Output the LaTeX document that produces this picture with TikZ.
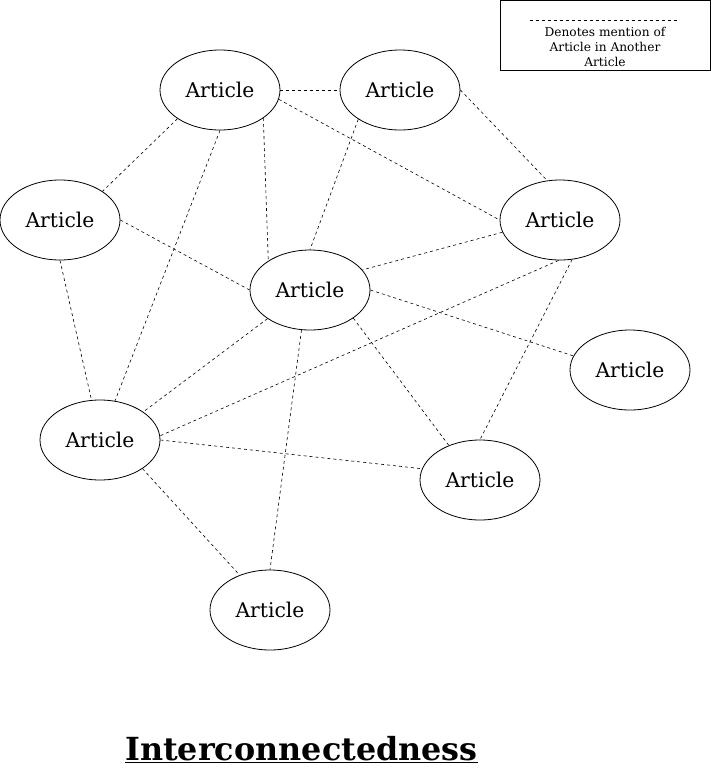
\documentclass[tikz,border=0pt]{standalone}
\usepackage{fontspec}
\setmainfont{DejaVu Serif}
\usetikzlibrary{shapes.geometric}
\begin{document}
\begin{tikzpicture}[x=1pt,y=-1pt,
  article/.style={draw,ellipse,minimum width=120pt,minimum height=80pt,inner sep=0pt,line width=0.8pt,font=\fontsize{20.3}{24}\selectfont},
  mention/.style={draw,line width=0.6pt,dash pattern=on 3pt off 3pt},
  legendbox/.style={draw,line width=0.8pt,minimum width=210pt,minimum height=70pt,inner sep=0pt},
  legendtext/.style={align=center,font=\fontsize{12.2}{15}\selectfont,inner sep=0pt},
  titletext/.style={font=\bfseries\fontsize{31.8}{38}\selectfont,inner sep=0pt}]
\useasboundingbox (0,0) rectangle (711,769);
\node[article] (A1) at (220,90) {Article};
\node[article] (A2) at (400,90) {Article};
\node[article] (A3) at (60,220) {Article};
\node[article] (A4) at (560,220) {Article};
\node[article] (A5) at (310,290) {Article};
\node[article] (A6) at (630,370) {Article};
\node[article] (A7) at (100,440) {Article};
\node[article] (A8) at (480,480) {Article};
\node[article] (A9) at (270,610) {Article};
% connectors
\draw[mention] (A1.east) -- (A2.west);
\draw[mention] (A1.-9) -- (A4.west);
\draw[mention] (A1.-146) -- (A3.34);
\draw[mention] (A1.south) -- (A7.69);
\draw[mention] (A1.-33) -- (A5.145);
\draw[mention] (A2.-145) -- (A5.north);
\draw[mention] (A2.east) -- (A4.108);
\draw[mention] (A3.east) -- (A5.west);
\draw[mention] (A3.south) -- (A7.102);
\draw[mention] (A4.-168) -- (A5.21);
\draw[mention] (A4.-92) -- (A7.4);
\draw[mention] (A4.-73) -- (A8.north);
\draw[mention] (A5.east) -- (A6.166);
\draw[mention] (A5.-33) -- (A8.132);
\draw[mention] (A5.-146) -- (A7.33);
\draw[mention] (A5.-102) -- (A9.north);
\draw[mention] (A7.east) -- (A8.169);
\draw[mention] (A7.-34) -- (A9.131);
% legend
\node[legendbox] (L) at (605,35.5) {};
\coordinate (LS) at (530,20.5);
\coordinate (LE) at (678,20.5);
\draw[mention] (LS) -- (LE);
\node[legendtext] (LT) at (605,47) {Denotes mention of\\Article in Another\\Article};
% title
\node[titletext,anchor=base] (T) at (301.5,760) {\underline{Interconnectedness}};
\end{tikzpicture}
\end{document}
